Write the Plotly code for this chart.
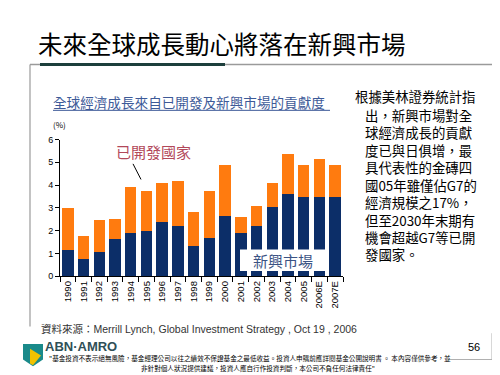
import plotly.graph_objects as go

years = ["1990", "1991", "1992", "1993", "1994", "1995", "1996", "1997", "1998",
         "1999", "2000", "2001", "2002", "2003", "2004", "2005", "2006E", "2007E"]
emerging = [1.15, 0.75, 1.05, 1.65, 1.9, 2.0, 2.4, 2.2, 1.35,
            1.7, 2.65, 1.9, 2.2, 3.05, 3.6, 3.5, 3.5, 3.5]
total = [3.0, 1.75, 2.45, 2.5, 3.9, 3.75, 4.1, 4.2, 2.8,
         3.75, 4.9, 2.6, 3.1, 4.1, 5.35, 4.9, 5.15, 4.9]
developed = [round(t - e, 2) for t, e in zip(total, emerging)]
y_ticks = [0, 1, 2, 3, 4, 5, 6]

W, H = 500, 375
def px(x): return x / W
def py(y): return 1 - y / H

NAVY = "#0c2e68"
ORANGE = "#ff7b0f"
CJK = "Noto Sans CJK TC"

fig = go.Figure()
fig.add_trace(go.Bar(x=years, y=emerging, marker_color=NAVY, marker_line_width=0, name="新興市場"))
fig.add_trace(go.Bar(x=years, y=developed, marker_color=ORANGE, marker_line_width=0, name="已開發國家"))

fig.update_layout(
    width=W, height=H, margin=dict(l=0, r=0, t=0, b=0),
    paper_bgcolor="white", plot_bgcolor="white",
    barmode="stack", bargap=0.27, showlegend=False,
    font=dict(family="Liberation Sans, Arial", color="black"),
    xaxis=dict(domain=[px(52), px(335)], type="category", showgrid=False,
               showline=True, linecolor="black", linewidth=1,
               ticks="outside", tickson="boundaries", ticklen=5, tickcolor="black",
               tickangle=-90, tickfont=dict(size=9.5, family="Liberation Sans")),
    yaxis=dict(domain=[py(270.5), py(130)], range=[0, 6], tickvals=y_ticks,
               showgrid=False, zeroline=False, showline=True, linecolor="black",
               linewidth=1, ticks="outside", ticklen=4, tickcolor="black",
               tickfont=dict(size=9, family="Liberation Sans")),
)

shapes = []
# top rule
shapes.append(dict(type="line", xref="paper", yref="paper", x0=px(22), x1=px(497),
                   y0=py(53), y1=py(53), line=dict(color="#9a9a9a", width=1.5)))
shapes.append(dict(type="line", xref="paper", yref="paper", x0=px(32), x1=px(217),
                   y0=py(53), y1=py(53), line=dict(color="#1d3f3c", width=3)))
# left rule
shapes.append(dict(type="line", xref="paper", yref="paper", x0=px(22), x1=px(22),
                   y0=py(53), y1=py(322), line=dict(color="#9a9a9a", width=1.2)))
# subtitle underline
shapes.append(dict(type="line", xref="paper", yref="paper", x0=px(45), x1=px(322),
                   y0=py(100), y1=py(100), line=dict(color="#3d5a98", width=1)))
# annotation pointer line
shapes.append(dict(type="line", xref="paper", yref="paper", x0=px(125), x1=px(133),
                   y0=py(155), y1=py(171), line=dict(color="black", width=1)))
# emerging label box
shapes.append(dict(type="rect", xref="paper", yref="paper", x0=px(232), x1=px(318),
                   y0=py(243), y1=py(265), fillcolor="white", line=dict(width=0)))
# page number rule
shapes.append(dict(type="line", xref="paper", yref="paper", x0=px(484), x1=px(484),
                   y0=py(329), y1=py(356), line=dict(color="#b0b0b0", width=1)))
shapes.append(dict(type="line", xref="paper", yref="paper", x0=px(440), x1=px(484),
                   y0=py(356), y1=py(356), line=dict(color="#b0b0b0", width=1)))
# logo
shapes.append(dict(type="path", xref="paper", yref="paper",
                   path=f"M {px(15)},{py(340)} L {px(35)},{py(340)} L {px(35)},{py(356)} L {px(25)},{py(363)} L {px(15)},{py(356)} Z",
                   fillcolor="#1a8a8a", line=dict(width=0)))
shapes.append(dict(type="path", xref="paper", yref="paper",
                   path=f"M {px(22)},{py(345)} L {px(33)},{py(352)} L {px(25)},{py(362)} L {px(22)},{py(360)} Z",
                   fillcolor="#f2c200", line=dict(width=0)))
fig.update_layout(shapes=shapes)

ann = []
def text(x, y, s, size, color="black", family=CJK, xanchor="left", yanchor="middle", align="left"):
    ann.append(dict(x=px(x), y=py(y), xref="paper", yref="paper", text=s, showarrow=False,
                    xanchor=xanchor, yanchor=yanchor, align=align, borderpad=0,
                    font=dict(size=size, color=color, family=family)))

text(29, 31, "未來全球成長動心將落在新興市場", 24.5)
text(44, 91, "全球經濟成長來自已開發及新興市場的貢獻度", 13.6, color="#3d5a98")
text(44, 115, "(%)", 8)
text(107, 142, "已開發國家", 15, color="#b2485a")
text(275, 254, "新興市場", 15, color="#3b5384", xanchor="center")

right_lines = ["根據美林證券統計指", "出，新興市場對全", "球經濟成長的貢獻", "度已與日俱增，最",
               "具代表性的金磚四", "國05年雖僅佔G7的", "經濟規模之17%，", "但至2030年末期有",
               "機會超越G7等已開", "發國家。"]
text(346, 85, right_lines[0], 13.4)
text(356, 94, "<br>".join(right_lines[1:]), 13.4, yanchor="top")

text(32, 325, "資料來源：Merrill Lynch, Global Investment Strategy , Oct 19 , 2006", 10.5,
     color="#333333", family="Liberation Sans, " + CJK)
text(36, 343, "<b>ABN·AMRO</b>", 13, color="#2f4f57", family="Liberation Sans")
text(40, 354, "\"基金投資不表示絕無風險，基金經理公司以往之績效不保證基金之最低收益。投資人申購前應詳閱基金公開說明書 。 本內容僅供參考，並", 6.6)
text(250, 365, "非針對個人狀況提供建議，投資人應自行作投資判斷，本公司不負任何法律責任\"", 6.6, xanchor="center")
text(466, 343, "56", 11, family="Liberation Sans", xanchor="center")
fig.update_layout(annotations=ann)

fig.write_html("out.html")
